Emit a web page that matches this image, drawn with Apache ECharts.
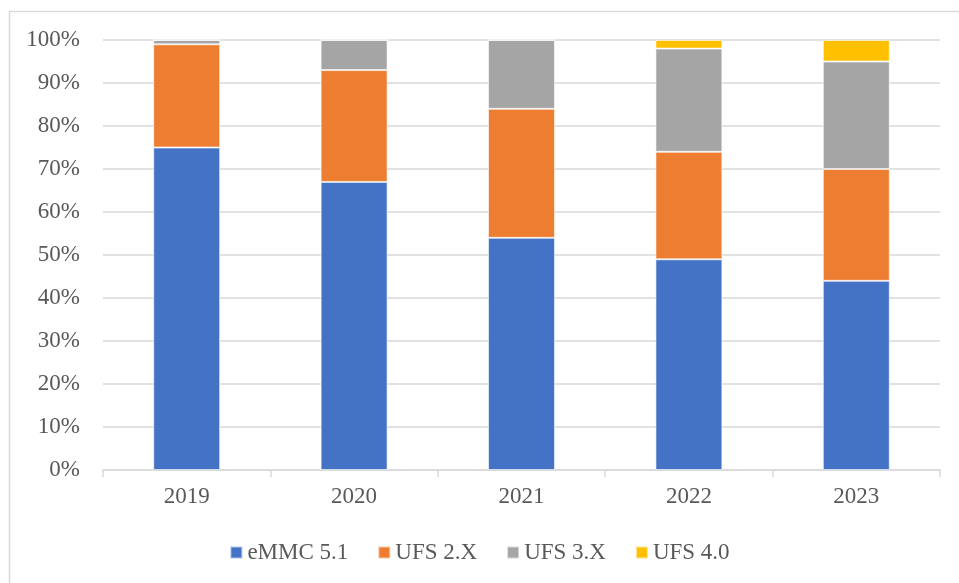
<!DOCTYPE html>
<html>
<head>
<meta charset="utf-8">
<script src="https://cdn.jsdelivr.net/npm/echarts@6/dist/echarts.min.js"></script>
<style>
  html, body { margin: 0; padding: 0; background: #fff; }
  #chart { width: 959px; height: 583px; }
</style>
</head>
<body>
<div id="chart"></div>
<script>
const years = ['2019', '2020', '2021', '2022', '2023']
const emmc51 = [75, 67, 54, 49, 44]
const ufs2x = [24, 26, 30, 25, 26]
const ufs3x = [1, 7, 16, 24, 25]
const ufs40 = [0, 0, 0, 2, 5]

const seriesNames = ['eMMC 5.1', 'UFS 2.X', 'UFS 3.X', 'UFS 4.0']
const seriesColors = ['#4472C4', '#ED7D31', '#A5A5A5', '#FFC000']
const seriesData = [emmc51, ufs2x, ufs3x, ufs40]

const font = '"Liberation Serif", "Times New Roman", serif'
const chart = echarts.init(document.getElementById('chart'))

chart.setOption({
  animation: false,
  textStyle: { fontFamily: font },
  graphic: [{
    type: 'rect',
    shape: { x: 9.5, y: 11.5, width: 1000, height: 700 },
    style: { fill: 'none', stroke: '#d9d9d9', lineWidth: 1.5 },
    silent: true
  }],
  grid: { left: 103, right: 19, top: 40, bottom: 113 },
  legend: {
    top: 536,
    left: 'center',
    itemWidth: 12,
    itemHeight: 12,
    itemGap: 29,
    icon: 'rect',
    textStyle: { fontFamily: font, fontSize: 23, color: '#595959' },
    data: seriesNames
  },
  xAxis: {
    type: 'category',
    data: years,
    axisLine: { lineStyle: { color: '#d9d9d9', width: 1.5 } },
    axisTick: { show: true, length: 7, lineStyle: { color: '#d9d9d9', width: 1.5 } },
    axisLabel: { fontFamily: font, fontSize: 23, color: '#595959', margin: 15 }
  },
  yAxis: {
    type: 'value',
    min: 0,
    max: 100,
    interval: 10,
    axisLine: { show: false },
    axisTick: { show: false },
    splitLine: { lineStyle: { color: '#d9d9d9', width: 1.5 } },
    axisLabel: { fontFamily: font, fontSize: 23, color: '#595959', margin: 23, formatter: '{value}%' }
  },
  series: seriesNames.map((name, i) => ({
    name,
    type: 'bar',
    stack: 'total',
    barCategoryGap: '60%',
    data: seriesData[i],
    itemStyle: { color: seriesColors[i], borderColor: 'rgba(255,255,255,0.6)', borderWidth: 1 }
  }))
})
</script>
</body>
</html>
